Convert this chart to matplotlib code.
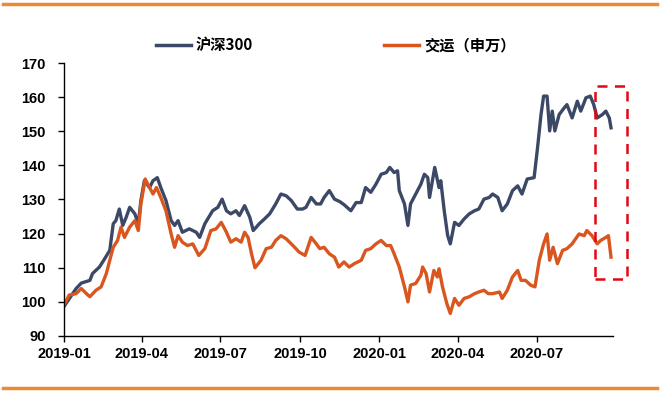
import matplotlib
matplotlib.use('Agg')
import matplotlib.pyplot as plt
import matplotlib.dates as mdates
from matplotlib.patches import Rectangle
from matplotlib.lines import Line2D
import pandas as pd

plt.rcParams['font.family'] = ['Liberation Sans', 'Noto Sans CJK SC', 'DejaVu Sans']

# 沪深300 (normalised, 2019-01-02 = ~100)
hs_dates = ['2019-01-02', '2019-01-15', '2019-01-21', '2019-01-31', '2019-02-03', '2019-02-11',
            '2019-02-17', '2019-02-23', '2019-02-27', '2019-03-02', '2019-03-06', '2019-03-10',
            '2019-03-14', '2019-03-18', '2019-03-24', '2019-03-28', '2019-03-31', '2019-04-04',
            '2019-04-10', '2019-04-14', '2019-04-19', '2019-04-23', '2019-04-29', '2019-05-05',
            '2019-05-09', '2019-05-13', '2019-05-18', '2019-05-26', '2019-06-03', '2019-06-07',
            '2019-06-13', '2019-06-22', '2019-06-28', '2019-07-03', '2019-07-08', '2019-07-13',
            '2019-07-19', '2019-07-23', '2019-07-29', '2019-08-04', '2019-08-08', '2019-08-15',
            '2019-08-21', '2019-08-27', '2019-09-03', '2019-09-09', '2019-09-15', '2019-09-21',
            '2019-09-28', '2019-10-04', '2019-10-08', '2019-10-14', '2019-10-20', '2019-10-25',
            '2019-10-29', '2019-11-04', '2019-11-10', '2019-11-16', '2019-11-21', '2019-11-29',
            '2019-12-05', '2019-12-11', '2019-12-16', '2019-12-22', '2019-12-28', '2020-01-03',
            '2020-01-09', '2020-01-13', '2020-01-18', '2020-01-22', '2020-01-24', '2020-01-30',
            '2020-02-03', '2020-02-06', '2020-02-12', '2020-02-18', '2020-02-22', '2020-02-26',
            '2020-02-28', '2020-03-05', '2020-03-10', '2020-03-12', '2020-03-16', '2020-03-20',
            '2020-03-23', '2020-03-28', '2020-04-02', '2020-04-08', '2020-04-14', '2020-04-20',
            '2020-04-25', '2020-05-01', '2020-05-07', '2020-05-11', '2020-05-17', '2020-05-22',
            '2020-05-28', '2020-06-03', '2020-06-09', '2020-06-14', '2020-06-20', '2020-06-28',
            '2020-07-02', '2020-07-06', '2020-07-09', '2020-07-13', '2020-07-16', '2020-07-19',
            '2020-07-22', '2020-07-27', '2020-08-02', '2020-08-05', '2020-08-11', '2020-08-17',
            '2020-08-21', '2020-08-27', '2020-09-01', '2020-09-05', '2020-09-09', '2020-09-15',
            '2020-09-19', '2020-09-23', '2020-09-25']
hs_vals = [99.0, 103.9, 105.5, 106.3, 108.3, 110.2,
           112.6, 115.1, 122.9, 123.8, 127.2, 122.4,
           124.8, 127.7, 125.8, 122.9, 129.7, 135.5,
           133.5, 135.5, 136.4, 133.5, 129.7, 123.8,
           122.4, 123.8, 120.4, 121.4, 120.4, 118.9,
           122.9, 126.7, 127.7, 130.1, 126.7, 125.8,
           126.7, 125.3, 128.2, 124.8, 120.9, 122.9,
           124.3, 125.8, 128.7, 131.6, 131.1, 129.7,
           127.2, 127.2, 127.7, 130.6, 128.7, 128.7,
           130.6, 132.6, 130.1, 129.4, 128.5, 126.7,
           129.1, 129.1, 133.5, 132.1, 134.5, 137.4,
           137.9, 139.4, 137.9, 138.4, 132.6, 128.7,
           122.4, 128.7, 131.6, 134.5, 137.4, 136.4,
           130.6, 139.4, 133.5, 135.5, 126.7, 119.4,
           117.0, 123.3, 122.4, 124.3, 125.8, 126.7,
           127.2, 130.1, 130.6, 131.6, 130.6, 126.7,
           128.7, 132.6, 134.0, 131.6, 136.0, 136.4,
           145.2, 154.9, 160.3, 160.3, 150.1, 155.9,
           150.1, 154.9, 156.9, 157.8, 153.9, 158.8,
           155.9, 159.8, 160.3, 157.8, 153.9, 154.9,
           155.9, 153.9, 151.0]

# 交运（申万）
jy_dates = ['2019-01-02', '2019-01-07', '2019-01-15', '2019-01-21', '2019-01-27', '2019-01-31',
            '2019-02-07', '2019-02-13', '2019-02-19', '2019-02-23', '2019-02-27', '2019-03-04',
            '2019-03-08', '2019-03-12', '2019-03-18', '2019-03-24', '2019-03-28', '2019-03-31',
            '2019-04-05', '2019-04-10', '2019-04-14', '2019-04-18', '2019-04-23', '2019-04-29',
            '2019-05-05', '2019-05-09', '2019-05-13', '2019-05-18', '2019-05-24', '2019-05-30',
            '2019-06-06', '2019-06-13', '2019-06-20', '2019-06-26', '2019-07-02', '2019-07-08',
            '2019-07-13', '2019-07-19', '2019-07-25', '2019-07-29', '2019-08-02', '2019-08-06',
            '2019-08-10', '2019-08-17', '2019-08-23', '2019-08-29', '2019-09-03', '2019-09-09',
            '2019-09-15', '2019-09-23', '2019-09-30', '2019-10-07', '2019-10-14', '2019-10-20',
            '2019-10-24', '2019-10-29', '2019-11-04', '2019-11-10', '2019-11-15', '2019-11-21',
            '2019-11-27', '2019-12-03', '2019-12-11', '2019-12-16', '2019-12-22', '2019-12-28',
            '2020-01-03', '2020-01-09', '2020-01-14', '2020-01-18', '2020-01-24', '2020-01-30',
            '2020-02-03', '2020-02-06', '2020-02-12', '2020-02-18', '2020-02-20', '2020-02-24',
            '2020-02-28', '2020-03-04', '2020-03-08', '2020-03-10', '2020-03-14', '2020-03-19',
            '2020-03-23', '2020-03-28', '2020-04-02', '2020-04-08', '2020-04-14', '2020-04-20',
            '2020-04-25', '2020-05-01', '2020-05-06', '2020-05-11', '2020-05-19', '2020-05-22',
            '2020-05-28', '2020-06-03', '2020-06-09', '2020-06-13', '2020-06-18', '2020-06-24',
            '2020-06-29', '2020-07-04', '2020-07-09', '2020-07-13', '2020-07-16', '2020-07-20',
            '2020-07-25', '2020-07-31', '2020-08-05', '2020-08-11', '2020-08-19', '2020-08-25',
            '2020-08-28', '2020-09-03', '2020-09-09', '2020-09-13', '2020-09-19', '2020-09-22',
            '2020-09-25']
jy_vals = [99.5, 102.0, 102.4, 103.9, 102.4, 101.5,
           103.4, 104.4, 108.3, 112.2, 116.0, 118.0,
           121.9, 118.9, 121.9, 123.8, 120.9, 128.7,
           136.0, 133.5, 131.6, 133.5, 130.6, 126.7,
           119.9, 116.0, 119.4, 117.5, 116.5, 117.0,
           113.6, 115.6, 120.9, 121.4, 123.3, 120.4,
           117.5, 118.5, 117.5, 120.4, 118.9, 114.1,
           110.0, 112.2, 115.6, 116.0, 118.0, 119.4,
           118.5, 116.5, 114.6, 113.6, 118.9, 117.0,
           115.6, 116.0, 114.1, 113.1, 110.2, 111.7,
           110.2, 111.2, 112.2, 115.1, 115.6, 117.0,
           118.0, 116.5, 116.5, 114.1, 110.2, 104.4,
           100.0, 104.9, 105.4, 107.8, 110.2, 108.3,
           102.9, 109.2, 107.3, 109.7, 104.4, 99.5,
           96.6, 101.0, 99.0, 101.0, 101.5, 102.4,
           102.9, 103.4, 102.4, 102.4, 102.9, 101.0,
           103.4, 107.3, 109.2, 106.3, 106.3, 104.9,
           104.4, 112.2, 117.0, 119.9, 112.2, 116.0,
           111.2, 115.1, 115.6, 117.0, 119.9, 119.4,
           120.9, 119.4, 117.0, 118.0, 118.9, 119.4,
           113.1]

labels = ['沪深300', '交运（申万）']
colors = ['#3B4866', '#D9561F']
yticks = [90, 100, 110, 120, 130, 140, 150, 160, 170]
xticks = ['2019-01-01', '2019-04-01', '2019-07-01', '2019-10-01',
          '2020-01-01', '2020-04-01', '2020-07-01']

fig = plt.figure(figsize=(6.61, 3.95), dpi=100)
ax = fig.add_axes([0.0968, 0.1494, 0.8302, 0.6911])

ax.plot(pd.to_datetime(hs_dates), hs_vals, color=colors[0], lw=2.4,
        solid_joinstyle='round', label=labels[0])
ax.plot(pd.to_datetime(jy_dates), jy_vals, color=colors[1], lw=2.4,
        solid_joinstyle='round', label=labels[1])

ax.set_ylim(90, 170)
ax.set_yticks(yticks)
ax.set_xlim(pd.Timestamp('2019-01-01'), pd.Timestamp('2020-09-27'))
ax.set_xticks(pd.to_datetime(xticks))
ax.xaxis.set_major_formatter(mdates.DateFormatter('%Y-%m'))

for s in ['top', 'right']:
    ax.spines[s].set_visible(False)
for s in ['left', 'bottom']:
    ax.spines[s].set_color('black')
    ax.spines[s].set_linewidth(1.0)
ax.tick_params(axis='both', direction='out', length=4, width=1, color='black',
               labelsize=10.5)
ax.tick_params(axis='y', pad=9)
ax.tick_params(axis='x', pad=4)
for t in ax.get_xticklabels() + ax.get_yticklabels():
    t.set_fontweight('bold')

# red dashed highlight box (extends past the axes)
box_x0 = mdates.date2num(pd.Timestamp('2020-09-07'))
box_x1 = mdates.date2num(pd.Timestamp('2020-10-13'))
box = Rectangle((box_x0, 106.6), box_x1 - box_x0, 163.2 - 106.6,
                fill=False, ec='#E30613', lw=1.8, ls=(0, (4, 3)),
                clip_on=False, zorder=5)
ax.add_patch(box)

fig.legend(handles=[Line2D([], [], color=colors[0], lw=2.5),
                    Line2D([], [], color=colors[1], lw=2.5)],
           labels=labels, loc='center', bbox_to_anchor=(0.508, 0.886),
           ncol=2, frameon=False, handlelength=2.3, handletextpad=0.3,
           columnspacing=8.6,
           prop={'family': ['Noto Sans CJK SC', 'DejaVu Sans'],
                 'weight': 'bold', 'size': 11})

# orange rules at top and bottom
fig.add_artist(Line2D([0.0045, 0.994], [0.99, 0.99], color='#E88B35', lw=2.5))
fig.add_artist(Line2D([0.0045, 0.994], [0.018, 0.018], color='#E88B35', lw=2.5))

fig.savefig('out.png', dpi=100)
